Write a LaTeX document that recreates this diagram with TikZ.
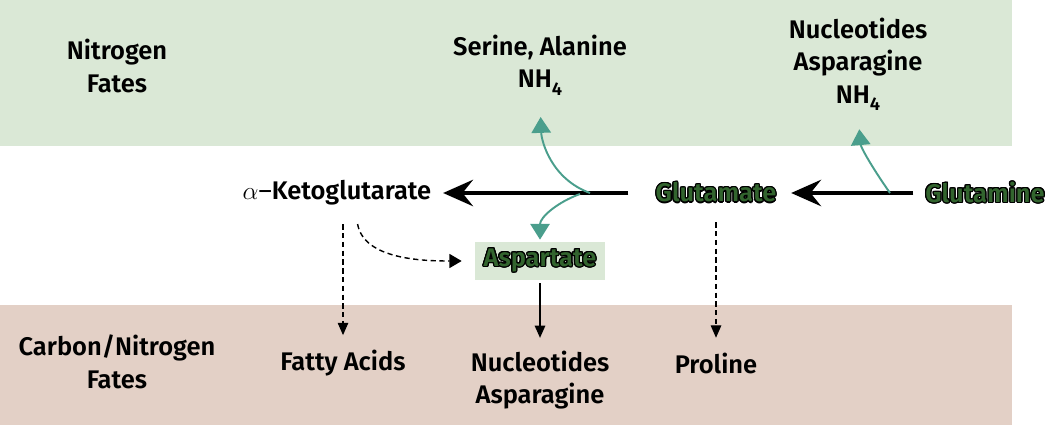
\documentclass[tikz,border=0pt]{standalone}
\usepackage{fontspec}
\setmainfont{Fira Sans}[BoldFont={Fira Sans SemiBold}]
\usepackage{contour}
\contourlength{0.7pt}
\usetikzlibrary{positioning,arrows.meta}

\definecolor{nitrobg}{RGB}{218,232,214}
\definecolor{carbbg}{RGB}{227,208,198}
\definecolor{tealarr}{RGB}{74,158,140}
\definecolor{aminogreen}{RGB}{50,100,46}
\newcommand{\amino}[1]{\contour{black}{\textcolor{aminogreen}{#1}}}
\newcommand{\nhfour}{NH\raisebox{-0.55ex}{\fontsize{10.5}{10.5}\selectfont 4}}

\tikzset{
  label/.style={font=\fontsize{14.5}{18.5}\selectfont\bfseries, align=center, inner sep=2pt},
  mainarr/.style={line width=2.2pt, -{Stealth[length=17pt,width=15pt,inset=6pt]}},
  tealbranch/.style={tealarr, line width=1.1pt, -{Triangle[length=9pt,width=11pt]}},
  dotarr/.style={line width=0.6pt, dash pattern=on 3pt off 2pt, -{Triangle[length=7pt,width=6pt]}},
  curvearr/.style={line width=0.8pt, dash pattern=on 3pt off 2pt, -{Triangle[length=7pt,width=8pt]}},
  solidarr/.style={line width=0.8pt, -{Triangle[length=7pt,width=6pt]}}
}

\begin{document}
\begin{tikzpicture}[x=0.02cm,y=-0.02cm]
    \useasboundingbox (0,0) rectangle (1050,425);
    \fill[nitrobg] (0,0) rectangle (1012,146);
    \fill[carbbg] (0,305) rectangle (1012,425);

    \node[label] (nfates) at (117,66) {Nitrogen\\Fates};
    \node[label] (ser) at (540,65) {Serine, Alanine\\\nhfour};
    \node[label] (nuct) at (858,64) {Nucleotides\\Asparagine\\\nhfour};

    \node[label] (akg) at (337,193) {{\mdseries$\alpha$\textendash}Ketoglutarate};
    \node[label] (glu) at (716,193) {\amino{Glutamate}};
    \node[label] (gln) at (985,193) {\amino{Glutamine}};
    \node[label, fill=nitrobg, minimum width=2.6cm, minimum height=0.76cm] (asp) at (540,261) {\amino{Aspartate}};

    \node[label] (cnfates) at (117,362) {Carbon/Nitrogen\\Fates};
    \node[label] (fatty) at (343,363) {Fatty Acids};
    \node[label] (nucb) at (540,380) {Nucleotides\\Asparagine};
    \node[label] (pro) at (716,363) {Proline};

    \coordinate (br1) at (590,193);
    \coordinate (br2) at (580,194);
    \coordinate (br3) at (890,193);

    \draw[mainarr, shorten <=0.47cm, shorten >=0.16cm] (glu) -- (akg);
    \draw[mainarr, shorten <=0.16cm, shorten >=0.22cm] (gln) -- (glu);

    \draw[tealbranch, shorten >=0.36cm] (br1) to[out=160, in=-88] (ser.south);
    \draw[tealbranch, shorten >=0.04cm] (br2) to[out=200, in=90] (asp.north);
    \draw[tealbranch, shorten >=0.30cm] (br3) to[out=125, in=-85] (nuct.south);

    \draw[dotarr, shorten <=0.3cm, shorten >=0.22cm] (akg.south -| fatty.north) -- (fatty.north);
    \draw[dotarr, shorten <=0.3cm, shorten >=0.22cm] (glu.south) -- (pro.north);
    \draw[solidarr, shorten <=0.06cm, shorten >=0.18cm] (asp.south) -- (nucb.north);
    \draw[curvearr, shorten <=0.3cm, shorten >=0.26cm] ([xshift=0.36cm]akg.south) to[out=-80, in=180] (asp.west);
\end{tikzpicture}
\end{document}
